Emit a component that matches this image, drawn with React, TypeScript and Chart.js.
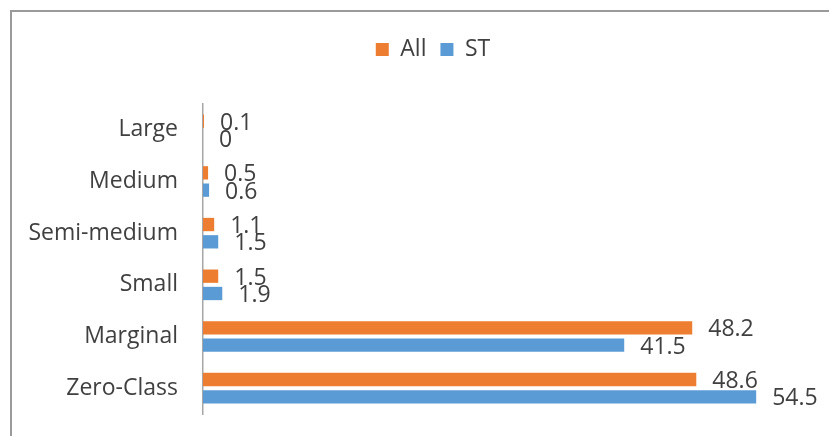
import React, { useEffect, useRef } from "react";
import { Chart, registerables } from "chart.js";

Chart.register(...registerables);

const categories = ["Large", "Medium", "Semi-medium", "Small", "Marginal", "Zero-Class"];
const allValues = [0.1, 0.5, 1.1, 1.5, 48.2, 48.6];
const stValues = [0, 0.6, 1.5, 1.9, 41.5, 54.5];
const seriesNames = ["All", "ST"];
const seriesColors = ["#ED7D31", "#5B9BD5"];

const FONT = "'Open Sans', 'Noto Sans', sans-serif";
const TEXT = "#404040";
const FS = 23;

const framePlugin = {
  id: "frame",
  beforeDraw(chart: any) {
    const ctx = chart.ctx;
    ctx.save();
    ctx.fillStyle = "#ffffff";
    ctx.fillRect(0, 0, chart.width, chart.height);
    ctx.strokeStyle = "#9a9a9a";
    ctx.lineWidth = 2;
    ctx.beginPath();
    ctx.moveTo(11, chart.height);
    ctx.lineTo(11, 11);
    ctx.lineTo(chart.width, 11);
    ctx.stroke();
    ctx.restore();
  },
};

const labelPlugin = {
  id: "valueLabels",
  afterDatasetsDraw(chart: any) {
    const ctx = chart.ctx;
    ctx.save();
    ctx.font = `${FS}px ${FONT}`;
    ctx.fillStyle = TEXT;
    ctx.textAlign = "left";
    ctx.textBaseline = "middle";
    chart.data.datasets.forEach((ds: any, di: number) => {
      const meta = chart.getDatasetMeta(di);
      meta.data.forEach((bar: any, i: number) => {
        const v = ds.data[i];
        ctx.fillText(String(v), bar.x + 16, bar.y + 2);
      });
    });
    ctx.restore();
  },
};

const legendSpacer = {
  id: "legendSpacer",
  beforeInit(chart: any) {
    const legend = chart.legend;
    if (!legend) return;
    const orig = legend.fit;
    legend.fit = function () {
      orig.call(this);
      this.height += 33;
    };
  },
  afterLayout(chart: any) {
    const legend = chart.legend;
    if (!legend) return;
    legend.left += 27;
    legend.right += 27;
  },
};

export default function App() {
  const ref = useRef<HTMLCanvasElement | null>(null);
  useEffect(() => {
    document.body.style.margin = "0";
    const canvas = ref.current!;
    const chart = new Chart(canvas, {
      type: "bar",
      data: {
        labels: categories,
        datasets: [
          { label: seriesNames[0], data: allValues, backgroundColor: seriesColors[0], categoryPercentage: 0.67, barPercentage: 0.77 },
          { label: seriesNames[1], data: stValues, backgroundColor: seriesColors[1], categoryPercentage: 0.67, barPercentage: 0.77 },
        ],
      },
      options: {
        indexAxis: "y",
        responsive: false,
        animation: false,
        layout: { padding: { left: 0, right: 17, top: 24, bottom: 22 } },
        scales: {
          x: { display: false, min: 0, max: 60 },
          y: {
            grid: { display: false, drawTicks: false },
            border: { display: true, color: "#a6a6a6", width: 1.5 },
            ticks: { padding: 25, color: TEXT, font: { family: FONT, size: FS } },
            afterFit(scale: any) {
              scale.width = 203;
              scale.paddingTop = 0;
              scale.paddingBottom = 0;
            },
          },
        },
        plugins: {
          legend: {
            position: "top",
            labels: { boxWidth: 13, boxHeight: 13, color: TEXT, font: { family: FONT, size: FS }, padding: 14 },
          },
          tooltip: { enabled: false },
        },
      },
      plugins: [framePlugin, labelPlugin, legendSpacer],
    } as any);
    return () => chart.destroy();
  }, []);
  return <canvas ref={ref} width={829} height={436} style={{ display: "block", width: 829, height: 436 }} />;
}
